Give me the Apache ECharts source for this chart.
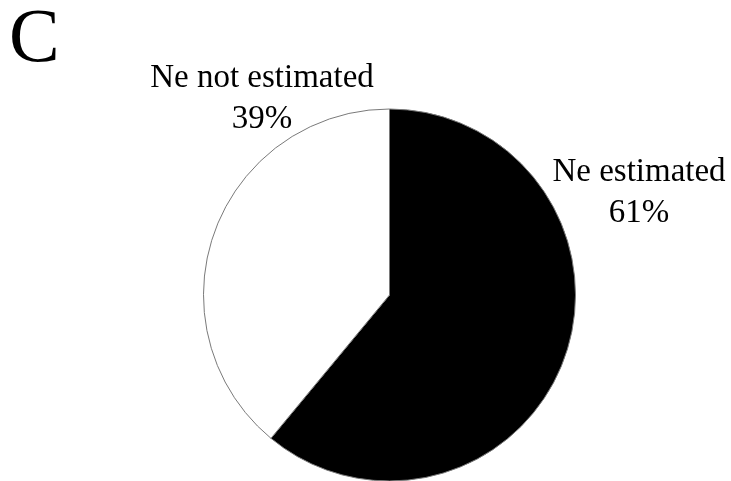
<!DOCTYPE html>
<html><head><meta charset="utf-8">
<script src="https://cdn.jsdelivr.net/npm/echarts@6/dist/echarts.min.js"></script>
<style>html,body{margin:0;padding:0;background:#fff}#c{width:731px;height:481px}</style>
</head><body><div id="c"></div>
<script>
const categories = ['Ne estimated', 'Ne not estimated'];
const values = [61, 39];
const colors = ['#000000', '#ffffff'];
const panelLabel = 'C';

const chart = echarts.init(document.getElementById('c'));
const labelPos = [[639, 193], [262, 99]];
chart.setOption({
  animation: false,
  backgroundColor: '#fff',
  title: {
    text: panelLabel, left: 4, top: -2,
    textStyle: {fontFamily: 'Liberation Serif', fontSize: 76, fontWeight: 'normal', color: '#000'}
  },
  series: [{
    type: 'pie',
    center: [389.5, 295],
    radius: 186,
    startAngle: 90,
    clockwise: true,
    silent: true,
    data: categories.map((n, i) => ({name: n, value: values[i], itemStyle: {color: colors[i]}})),
    itemStyle: {borderColor: '#7a7a7a', borderWidth: 1},
    label: {
      show: true, position: 'outside', overflow: 'none', alignTo: 'none',
      formatter: '{b}\n{c}%',
      fontFamily: 'Liberation Serif', fontSize: 33, color: '#000',
      lineHeight: 41, align: 'center'
    },
    labelLine: {show: false},
    labelLayout: function (p) {
      const pos = labelPos[p.dataIndex];
      return {x: pos[0], y: pos[1], align: 'center', verticalAlign: 'middle', hideOverlap: false, width: 400};
    }
  }]
});
</script></body></html>
